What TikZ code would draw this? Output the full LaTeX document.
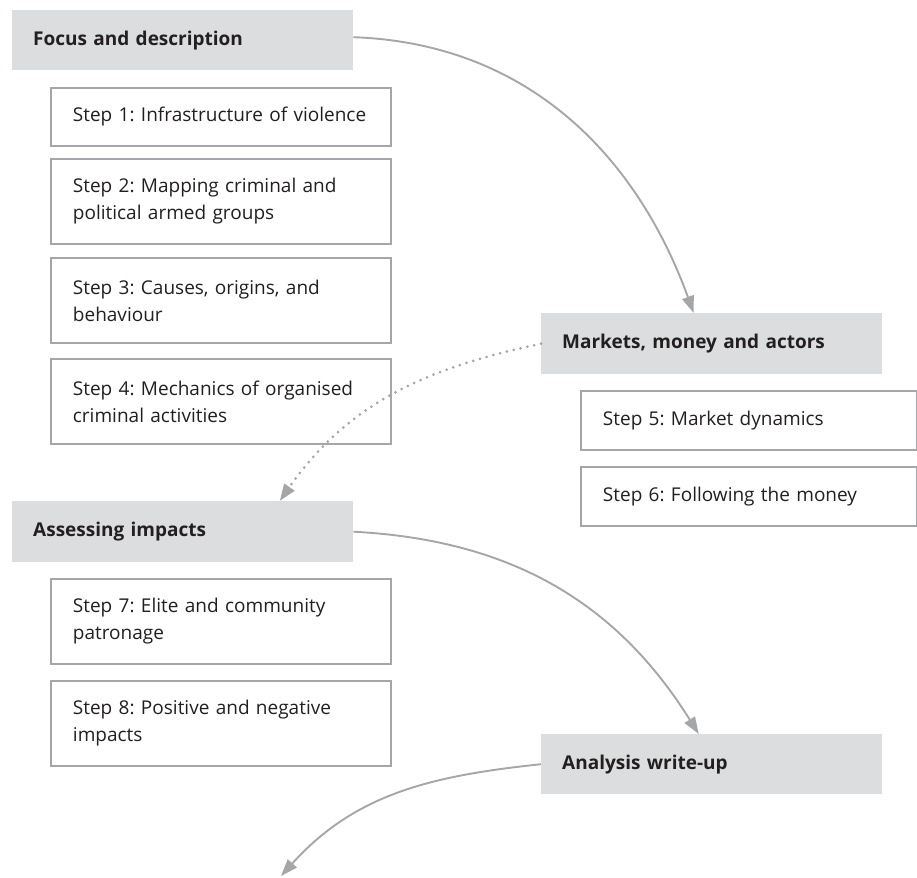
\documentclass[tikz,border=0pt]{standalone}
\usepackage{fontspec}
\setmainfont{Open Sans}
\frenchspacing
\usetikzlibrary{arrows.meta}
\definecolor{hdrgray}{HTML}{DCDDDE}
\definecolor{linegray}{HTML}{A4A6A9}
\definecolor{txtgray}{HTML}{231F20}
\tikzset{
  header/.style={anchor=north west, fill=hdrgray, minimum width=341pt, minimum height=60pt,
    text width=299pt, inner xsep=21pt, align=left, font=\fontsize{19}{27}\selectfont\bfseries, text=txtgray},
  stepbox/.style={anchor=north west, draw=linegray, line width=1.9pt, fill=white, minimum width=340pt,
    text width=296pt, inner xsep=22pt, align=left, font=\fontsize{19}{27}\selectfont, text=txtgray},
  conn/.style={draw=linegray, line width=1.9pt, -{Triangle[length=17pt,width=12pt]}},
  dotconn/.style={conn, line cap=round, dash pattern=on 0pt off 7pt, line width=3pt}
}
\begin{document}
\begin{tikzpicture}[x=1pt, y=-1pt]
         \useasboundingbox (0,0) rectangle (917,877);

         \node (focus) [header] at (12,10) {Focus and description};
         \node (s1) [stepbox, minimum height=58pt] at (50,87) {Step 1: Infrastructure of violence};
         \node (s2) [stepbox, minimum height=85pt] at (50,158) {Step 2: Mapping criminal and\\ political armed groups};
         \node (s3) [stepbox, minimum height=85pt] at (50,257) {Step 3: Causes, origins, and\\ behaviour};
         \node (s4) [stepbox, minimum height=85pt] at (50,358) {Step 4: Mechanics of organised\\ criminal activities};

         \node (markets) [header, minimum height=61pt] at (541,313) {Markets, money and actors};
         \node (s5) [stepbox, minimum width=336pt, text width=292pt, minimum height=59pt] at (580,390) {Step 5: Market dynamics};
         \node (s6) [stepbox, minimum width=336pt, text width=292pt, minimum height=59pt] at (580,466) {Step 6: Following the money};

         \node (assess) [header, minimum height=61pt] at (12,501) {Assessing impacts};
         \node (s7) [stepbox, minimum height=85pt] at (50,578) {Step 7: Elite and community\\ patronage};
         \node (s8) [stepbox, minimum height=85pt] at (50,680) {Step 8: Positive and negative\\ impacts};

         \node (analysis) [header] at (541,734) {Analysis write-up};
         \coordinate (endpt) at (281,876);

         \draw[conn] ([yshift=3pt]focus.east) to[out=-2, in=110] ([xshift=-18pt]markets.north);
         \draw[dotconn] (markets.west) to[out=192, in=55] ([xshift=97pt]assess.north);
         \draw[conn] (assess.east) to[out=-3, in=122] ([xshift=-13pt]analysis.north);
         \draw[conn] (analysis.west) to[out=186, in=48] (endpt);
\end{tikzpicture}
\end{document}
